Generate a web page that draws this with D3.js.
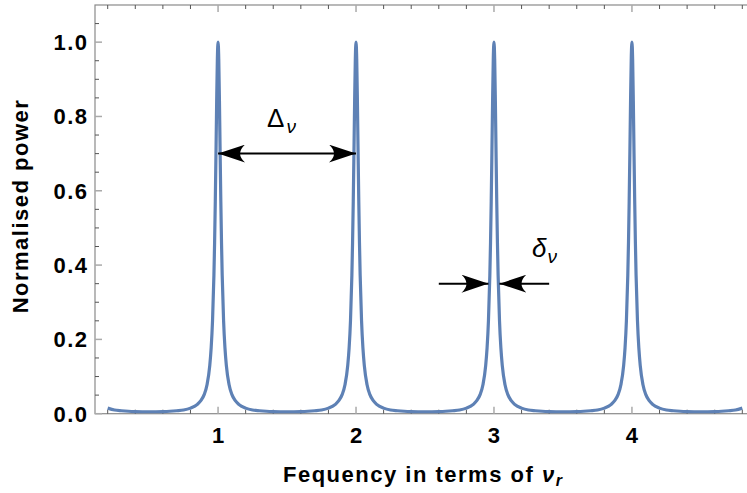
<!DOCTYPE html>
<html>
<head>
<meta charset="utf-8">
<script src="https://cdn.jsdelivr.net/npm/d3@7"></script>
<style>
  body { margin: 0; background: #fff; }
  svg { display: block; font-family: "Liberation Sans", Arial, sans-serif; }
</style>
</head>
<body>
<div id="chart-area"></div>
<script>
// curve (frequency in units of v_r, normalised power)
var freq = [
    0.2, 0.25, 0.3, 0.35, 0.4, 0.5, 0.6, 0.65, 0.7, 0.75, 0.8, 0.85, 0.875, 0.9, 0.92, 0.94, 0.95, 0.96, 0.97, 0.975, 0.98, 0.985, 0.99, 0.995,
    1.0, 1.005, 1.01, 1.015, 1.02, 1.025, 1.03, 1.04, 1.05, 1.06, 1.08, 1.1, 1.125, 1.15, 1.2, 1.25, 1.3, 1.35, 1.4, 1.5, 1.6, 1.65, 1.7, 1.75, 1.8, 1.85, 1.875, 1.9, 1.92, 1.94, 1.95, 1.96, 1.97, 1.975, 1.98, 1.985, 1.99, 1.995,
    2.0, 2.005, 2.01, 2.015, 2.02, 2.025, 2.03, 2.04, 2.05, 2.06, 2.08, 2.1, 2.125, 2.15, 2.2, 2.25, 2.3, 2.35, 2.4, 2.5, 2.6, 2.65, 2.7, 2.75, 2.8, 2.85, 2.875, 2.9, 2.92, 2.94, 2.95, 2.96, 2.97, 2.975, 2.98, 2.985, 2.99, 2.995,
    3.0, 3.005, 3.01, 3.015, 3.02, 3.025, 3.03, 3.04, 3.05, 3.06, 3.08, 3.1, 3.125, 3.15, 3.2, 3.25, 3.3, 3.35, 3.4, 3.5, 3.6, 3.65, 3.7, 3.75, 3.8, 3.85, 3.875, 3.9, 3.92, 3.94, 3.95, 3.96, 3.97, 3.975, 3.98, 3.985, 3.99, 3.995,
    4.0, 4.005, 4.01, 4.015, 4.02, 4.025, 4.03, 4.04, 4.05, 4.06, 4.08, 4.1, 4.125, 4.15, 4.2, 4.25, 4.3, 4.35, 4.4, 4.5, 4.6, 4.65, 4.7, 4.75, 4.8
];
var power = [
    .015, .010, .008, .0066, .0058, .0052, .0058, .0066, .008, .010, .015, .025, .035, .052, .078, .130, .177, .251, .373, .461, .572, .703, .842, .955,
    1, .955, .842, .703, .572, .461, .373, .251, .177, .130, .078, .052, .035, .025, .015, .010, .008, .0066, .0058, .0052, .0058, .0066, .008, .010, .015, .025, .035, .052, .078, .130, .177, .251, .373, .461, .572, .703, .842, .955,
    1, .955, .842, .703, .572, .461, .373, .251, .177, .130, .078, .052, .035, .025, .015, .010, .008, .0066, .0058, .0052, .0058, .0066, .008, .010, .015, .025, .035, .052, .078, .130, .177, .251, .373, .461, .572, .703, .842, .955,
    1, .955, .842, .703, .572, .461, .373, .251, .177, .130, .078, .052, .035, .025, .015, .010, .008, .0066, .0058, .0052, .0058, .0066, .008, .010, .015, .025, .035, .052, .078, .130, .177, .251, .373, .461, .572, .703, .842, .955,
    1, .955, .842, .703, .572, .461, .373, .251, .177, .130, .078, .052, .035, .025, .015, .010, .008, .0066, .0058, .0052, .0058, .0066, .008, .010, .015
];

var xMajor = [1, 2, 3, 4];
var xMinor = [0.2, 0.4, 0.6, 0.8, 1.2, 1.4, 1.6, 1.8, 2.2, 2.4, 2.6, 2.8, 3.2, 3.4, 3.6, 3.8, 4.2, 4.4, 4.6, 4.8];
var yMajor = [0, 0.2, 0.4, 0.6, 0.8, 1.0];
var yMinor = [0.05, 0.1, 0.15, 0.25, 0.3, 0.35, 0.45, 0.5, 0.55, 0.65, 0.7, 0.75, 0.85, 0.9, 0.95, 1.05];

// annotation arrows: [x1, x2, y] in data units, head at x2
var doubleArrow = [1, 2, 0.7];
var inArrows = [[2.6, 2.96, 0.35], [3.4, 3.04, 0.35]];

var width = 747, height = 493;
var plotLeft = 95, plotRight = 755, plotTop = 5, plotBottom = 413.7;

var svg = d3.select("#chart-area")
    .append("svg")
        .attr("width", width)
        .attr("height", height);

var x = d3.scaleLinear()
    .domain([0.108, 4.892])
    .range([plotLeft, plotRight]);

var y = d3.scaleLinear()
    .domain([0, 1.1])
    .range([plotBottom, plotTop]);

// arrowhead marker (Mathematica style, notched back)
svg.append("defs").append("marker")
    .attr("id", "head")
    .attr("viewBox", "-27 -9 27 18")
    .attr("refX", 0)
    .attr("refY", 0)
    .attr("markerWidth", 27)
    .attr("markerHeight", 18)
    .attr("markerUnits", "userSpaceOnUse")
    .attr("orient", "auto-start-reverse")
  .append("path")
    .attr("d", "M0,0 L-27,-9 Q-17,0 -27,9 Z")
    .attr("fill", "#000");

// frame
svg.append("rect")
    .attr("x", plotLeft)
    .attr("y", plotTop)
    .attr("width", plotRight - plotLeft)
    .attr("height", plotBottom - plotTop)
    .attr("fill", "none")
    .attr("stroke", "#8a8a8a")
    .attr("stroke-width", 1.2);

var ticks = svg.append("g");

// bottom + top ticks
for (let v of xMinor) {
    ticks.append("line").attr("x1", x(v)).attr("x2", x(v)).attr("y1", plotBottom).attr("y2", plotBottom - 4)
        .attr("stroke", "#555").attr("stroke-width", 1);
    ticks.append("line").attr("x1", x(v)).attr("x2", x(v)).attr("y1", plotTop).attr("y2", plotTop + 4)
        .attr("stroke", "#555").attr("stroke-width", 1);
}
for (let v of xMajor) {
    ticks.append("line").attr("x1", x(v)).attr("x2", x(v)).attr("y1", plotBottom).attr("y2", plotBottom - 7)
        .attr("stroke", "#aaa").attr("stroke-width", 1.5);
    ticks.append("line").attr("x1", x(v)).attr("x2", x(v)).attr("y1", plotTop).attr("y2", plotTop + 7)
        .attr("stroke", "#aaa").attr("stroke-width", 1.5);
}
// left ticks
for (let v of yMinor) {
    ticks.append("line").attr("x1", plotLeft).attr("x2", plotLeft + 4).attr("y1", y(v)).attr("y2", y(v))
        .attr("stroke", "#555").attr("stroke-width", 1);
}
for (let v of yMajor) {
    ticks.append("line").attr("x1", plotLeft).attr("x2", plotLeft + 7).attr("y1", y(v)).attr("y2", y(v))
        .attr("stroke", "#aaa").attr("stroke-width", 1.5);
}

// tick labels
svg.append("g").selectAll("text")
    .data(xMajor)
    .enter().append("text")
        .attr("x", d => x(d))
        .attr("y", 443)
        .attr("text-anchor", "middle")
        .attr("font-size", "22px")
        .attr("font-weight", "bold")
        .text(d => d);

svg.append("g").selectAll("text")
    .data(yMajor)
    .enter().append("text")
        .attr("x", 88.5)
        .attr("y", d => y(d) + 8)
        .attr("text-anchor", "end")
        .attr("font-size", "22px")
        .attr("font-weight", "bold")
        .attr("letter-spacing", "1.5px")
        .text(d => d3.format(".1f")(d));

// axis titles
svg.append("text")
    .attr("transform", "translate(28," + 206 + ") rotate(-90)")
    .attr("text-anchor", "middle")
    .attr("font-size", "22px")
    .attr("font-weight", "bold")
    .attr("letter-spacing", "1.5px")
    .text("Normalised power");

var xTitle = svg.append("text")
    .attr("x", 283)
    .attr("y", 482)
    .attr("font-size", "22px")
    .attr("font-weight", "bold")
    .attr("letter-spacing", "1.5px")
    .text("Fequency in terms of ");
xTitle.append("tspan").attr("font-style", "italic").text("\u03bd");
xTitle.append("tspan").attr("font-style", "italic").attr("font-size", "16px").attr("dy", 4).text("r");

// the curve
var pts = freq.map((f, i) => [f, power[i]]);
var line = d3.line()
    .x(d => x(d[0]))
    .y(d => y(d[1]))
    .curve(d3.curveMonotoneX);

svg.append("path")
    .datum(pts)
    .attr("d", line)
    .attr("fill", "none")
    .attr("stroke", "#5e81b5")
    .attr("stroke-width", 3.2)
    .attr("stroke-linejoin", "round");

// annotations
svg.append("line")
    .attr("x1", x(doubleArrow[0]))
    .attr("x2", x(doubleArrow[1]))
    .attr("y1", y(doubleArrow[2]))
    .attr("y2", y(doubleArrow[2]))
    .attr("stroke", "#000")
    .attr("stroke-width", 2)
    .attr("marker-start", "url(#head)")
    .attr("marker-end", "url(#head)");

for (let a of inArrows) {
    svg.append("line")
        .attr("x1", x(a[0]))
        .attr("x2", x(a[1]))
        .attr("y1", y(a[2]))
        .attr("y2", y(a[2]))
        .attr("stroke", "#000")
        .attr("stroke-width", 2)
        .attr("marker-end", "url(#head)");
}

var bigDelta = svg.append("text")
    .attr("x", 267)
    .attr("y", 127)
    .attr("font-size", "26px")
    .text("\u0394");
bigDelta.append("tspan").attr("font-style", "italic").attr("font-size", "19px").attr("dy", 6).attr("dx", 2).text("\u03bd");

var smallDelta = svg.append("text")
    .attr("x", 532)
    .attr("y", 257)
    .attr("font-size", "26px")
    .attr("font-style", "italic")
    .text("\u03b4");
smallDelta.append("tspan").attr("font-size", "19px").attr("dy", 6).attr("dx", 1).text("\u03bd");
</script>
</body>
</html>
